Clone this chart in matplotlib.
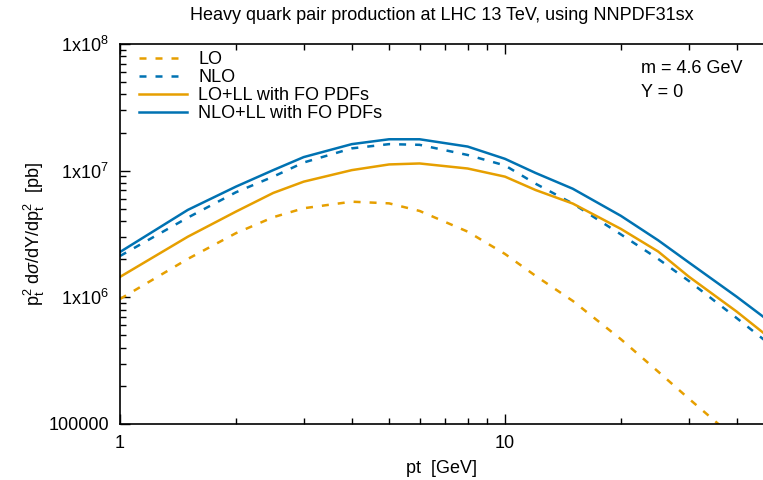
"""Heavy quark pair production spectrum: LO / NLO with and without LL resummation"""

import matplotlib
matplotlib.use('Agg')
import matplotlib.pyplot as plt
from matplotlib.ticker import FixedLocator, LogLocator, NullFormatter

plt.rcParams['font.family'] = ['Liberation Sans', 'DejaVu Sans']
plt.rcParams['mathtext.fontset'] = 'custom'
plt.rcParams['mathtext.rm'] = 'Liberation Sans'
plt.rcParams['mathtext.it'] = 'Liberation Sans:italic'

# transverse momentum grid [GeV]
pt = [1, 1.5, 2, 2.5, 3, 4, 5, 6, 8, 10, 12, 15, 20, 25, 30, 40, 50]

# pt^2 dsigma/dY/dpt^2 [pb]
lo = [9.7e5, 2.01e6, 3.21e6, 4.29e6, 5.05e6, 5.69e6, 5.52e6, 4.81e6, 3.30e6,
      2.20e6, 1.48e6, 9.37e5, 4.67e5, 2.59e5, 1.59e5, 7.5e4, 4.0e4]
nlo = [2.12e6, 4.26e6, 6.75e6, 8.97e6, 1.16e7, 1.50e7, 1.62e7, 1.60e7, 1.33e7,
       1.10e7, 7.9e6, 5.5e6, 3.14e6, 2.01e6, 1.35e6, 6.85e5, 4.0e5]
lo_ll = [1.45e6, 3.01e6, 4.75e6, 6.67e6, 8.19e6, 1.01e7, 1.12e7, 1.14e7, 1.04e7,
         8.97e6, 7.04e6, 5.5e6, 3.47e6, 2.30e6, 1.46e6, 7.71e5, 4.49e5]
nlo_ll = [2.28e6, 4.9e6, 7.48e6, 1.01e7, 1.28e7, 1.62e7, 1.77e7, 1.77e7, 1.55e7,
          1.24e7, 9.6e6, 7.2e6, 4.4e6, 2.82e6, 1.89e6, 1.01e6, 6.06e5]

ytick_vals = [1e5, 1e6, 1e7, 1e8]
ytick_labels = ['100000', r'1x10$^{6}$', r'1x10$^{7}$', r'1x10$^{8}$']
xtick_vals = [1, 10]
xtick_labels = ['1', '10']

ORANGE = '#E69F00'
BLUE = '#0072B2'
FS = 13

fig = plt.figure(figsize=(7.63, 4.80), dpi=100)
ax = fig.add_axes([0.1573, 0.1167, 0.8427, 0.7916])

lw = 1.8
ax.plot(pt, lo, color=ORANGE, lw=lw, dashes=(2.8, 3.6), label='LO')
ax.plot(pt, nlo, color=BLUE, lw=lw, dashes=(2.8, 3.6), label='NLO')
ax.plot(pt, lo_ll, color=ORANGE, lw=lw, label='LO+LL with FO PDFs')
ax.plot(pt, nlo_ll, color=BLUE, lw=lw, label='NLO+LL with FO PDFs')

ax.set_xscale('log')
ax.set_yscale('log')
ax.set_xlim(1, 46.8)
ax.set_ylim(1e5, 1e8)

ax.xaxis.set_major_locator(FixedLocator(xtick_vals))
ax.set_xticklabels(xtick_labels)
ax.xaxis.set_minor_locator(LogLocator(base=10, subs=range(2, 10)))
ax.xaxis.set_minor_formatter(NullFormatter())
ax.yaxis.set_major_locator(FixedLocator(ytick_vals))
ax.set_yticklabels(ytick_labels)
ax.yaxis.set_minor_locator(LogLocator(base=10, subs=range(2, 10)))
ax.yaxis.set_minor_formatter(NullFormatter())

ax.tick_params(which='both', direction='in', top=True, right=False,
               labelsize=FS, width=1.0, color='black')
ax.tick_params(which='major', length=7, pad=8)
ax.tick_params(which='minor', length=4)
ax.spines['right'].set_visible(False)
for s in ('left', 'bottom', 'top'):
    ax.spines[s].set_linewidth(1.2)

ax.set_title('Heavy quark pair production at LHC 13 TeV, using NNPDF31sx',
             fontsize=FS, pad=17)
ax.set_xlabel('pt  [GeV]', fontsize=FS, labelpad=6)
ax.set_ylabel(r'p$_{\rm t}^{\rm 2}$ d$\sigma$/dY/dp$_{\rm t}^{\rm 2}$  [pb]',
              fontsize=FS, labelpad=1)

ax.legend(loc='upper left', frameon=False, fontsize=FS, handlelength=2.65,
          handletextpad=0.6, labelspacing=0.05, borderaxespad=0.0,
          bbox_to_anchor=(0.019, 1.0))

ax.text(0.81, 0.935, 'm = 4.6 GeV', transform=ax.transAxes, fontsize=FS,
        va='center', ha='left')
ax.text(0.81, 0.873, 'Y = 0', transform=ax.transAxes, fontsize=FS,
        va='center', ha='left')

fig.savefig('out.png', dpi=100)
plt.close(fig)
